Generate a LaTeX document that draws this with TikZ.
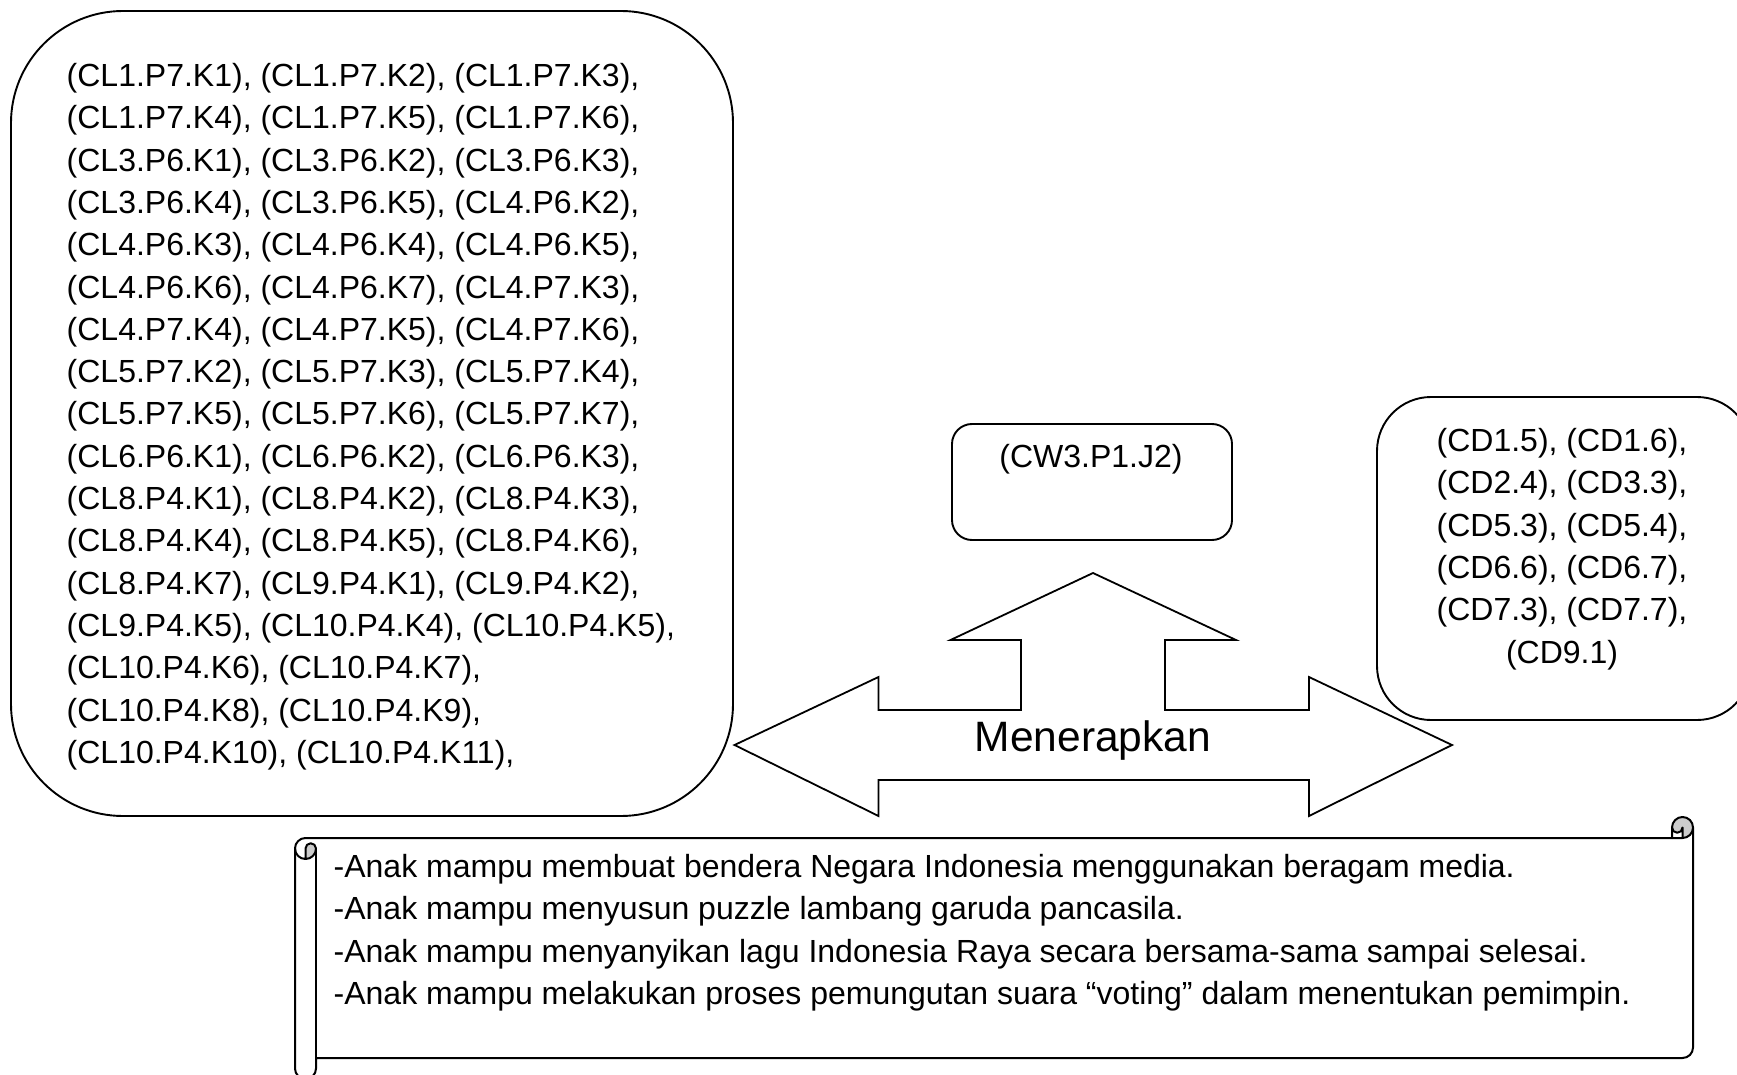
\documentclass[tikz,border=0pt]{standalone}
\usepackage{fontspec}
\setmainfont{Liberation Sans}
\begin{document}
\begin{tikzpicture}[x=1pt,y=-1pt,
  box/.style={draw=black, line width=1.9pt, fill=white, inner sep=0pt},
  txt/.style={inner sep=0pt, font=\fontsize{32}{42.3}\selectfont},
  arrowshape/.style={draw=black, line width=1.8pt, fill=white, line join=miter},
  scrollline/.style={draw=black, line width=2pt, line join=round},
  curl/.style={fill=black!20}]
\useasboundingbox (0,0) rectangle (1737,1075);
\clip (0,0) rectangle (1737,1075);

% left box
\node[box, minimum width=722pt, minimum height=805pt, rounded corners=112pt] (lbox) at (372,413.5) {};
\node[txt, anchor=north west, align=left] (ltext) at (66.5,63.2) {%
(CL1.P7.K1), (CL1.P7.K2), (CL1.P7.K3),\\
(CL1.P7.K4), (CL1.P7.K5), (CL1.P7.K6),\\
(CL3.P6.K1), (CL3.P6.K2), (CL3.P6.K3),\\
(CL3.P6.K4), (CL3.P6.K5), (CL4.P6.K2),\\
(CL4.P6.K3), (CL4.P6.K4), (CL4.P6.K5),\\
(CL4.P6.K6), (CL4.P6.K7), (CL4.P7.K3),\\
(CL4.P7.K4), (CL4.P7.K5), (CL4.P7.K6),\\
(CL5.P7.K2), (CL5.P7.K3), (CL5.P7.K4),\\
(CL5.P7.K5), (CL5.P7.K6), (CL5.P7.K7),\\
(CL6.P6.K1), (CL6.P6.K2), (CL6.P6.K3),\\
(CL8.P4.K1), (CL8.P4.K2), (CL8.P4.K3),\\
(CL8.P4.K4), (CL8.P4.K5), (CL8.P4.K6),\\
(CL8.P4.K7), (CL9.P4.K1), (CL9.P4.K2),\\
(CL9.P4.K5), (CL10.P4.K4), (CL10.P4.K5),\\
(CL10.P4.K6), (CL10.P4.K7),\\
(CL10.P4.K8), (CL10.P4.K9),\\
(CL10.P4.K10), (CL10.P4.K11),};

% top middle box
\node[box, minimum width=280pt, minimum height=116pt, rounded corners=20pt] (cw) at (1092,482) {};
\node[txt, anchor=north] (cwtext) at (1091,444.2) {(CW3.P1.J2)};

% right box
\node[box, minimum width=374pt, minimum height=323pt, rounded corners=54pt] (rbox) at (1564,558.5) {};
\node[txt, anchor=north, align=center] (rtext) at (1562,428.2) {%
(CD1.5), (CD1.6),\\
(CD2.4), (CD3.3),\\
(CD5.3), (CD5.4),\\
(CD6.6), (CD6.7),\\
(CD7.3), (CD7.7),\\
(CD9.1)};

% three-way arrow
\draw[arrowshape] (1093,573) -- (1236,640) -- (1165,640) -- (1165,710) -- (1309,710)
  -- (1309,677) -- (1452,745) -- (1309,816) -- (1309,780) -- (878.5,780)
  -- (878.5,816) -- (734.5,745) -- (878.5,677) -- (878.5,710) -- (1021,710)
  -- (1021,640) -- (950.5,640) -- cycle;
\node[inner sep=0pt, anchor=base, font=\fontsize{42.5}{50}\selectfont] (lbl) at (1093,751) {Menerapkan};

% horizontal scroll
\fill[white] (295,848.5) arc[start angle=180, delta angle=90, radius=10.5] -- (1672,838)
  -- (1672,827.5) arc[start angle=180, delta angle=180, radius=10.5] -- (1693,1047.5)
  arc[start angle=0, delta angle=90, radius=10.5] -- (316,1058) -- (316,1068.5)
  arc[start angle=0, delta angle=180, radius=10.5] -- cycle;
\fill[curl] (305.5,859) arc[start angle=90, delta angle=-90, radius=10.5]
  arc[start angle=0, delta angle=-180, radius=5.25] -- cycle;
\fill[curl] (1682.5,838) arc[start angle=90, delta angle=-270, radius=10.5]
  arc[start angle=180, delta angle=-180, radius=5.25] -- cycle;
\draw[scrollline] (295,848.5) arc[start angle=180, delta angle=90, radius=10.5] -- (1672,838)
  -- (1672,827.5) arc[start angle=180, delta angle=180, radius=10.5] -- (1693,1047.5)
  arc[start angle=0, delta angle=90, radius=10.5] -- (316,1058) -- (316,1068.5)
  arc[start angle=0, delta angle=180, radius=10.5] -- cycle;
\draw[scrollline] (1672,838) -- (1682.5,838) arc[start angle=90, delta angle=-90, radius=10.5];
\draw[scrollline] (1682.5,838) -- (1682.5,827.5) arc[start angle=0, delta angle=180, radius=5.25];
\draw[scrollline] (305.5,859) -- (305.5,848.5) arc[start angle=180, delta angle=180, radius=5.25]
  arc[start angle=0, delta angle=180, radius=10.5];
\draw[scrollline] (316,848.5) -- (316,1058);
\node[txt, anchor=north west, align=left] (stext) at (333.5,854.2) {%
-Anak mampu membuat bendera Negara Indonesia menggunakan beragam media.\\
-Anak mampu menyusun puzzle lambang garuda pancasila.\\
-Anak mampu menyanyikan lagu Indonesia Raya secara bersama-sama sampai selesai.\\
-Anak mampu melakukan proses pemungutan suara “voting” dalam menentukan pemimpin.};
\end{tikzpicture}
\end{document}
